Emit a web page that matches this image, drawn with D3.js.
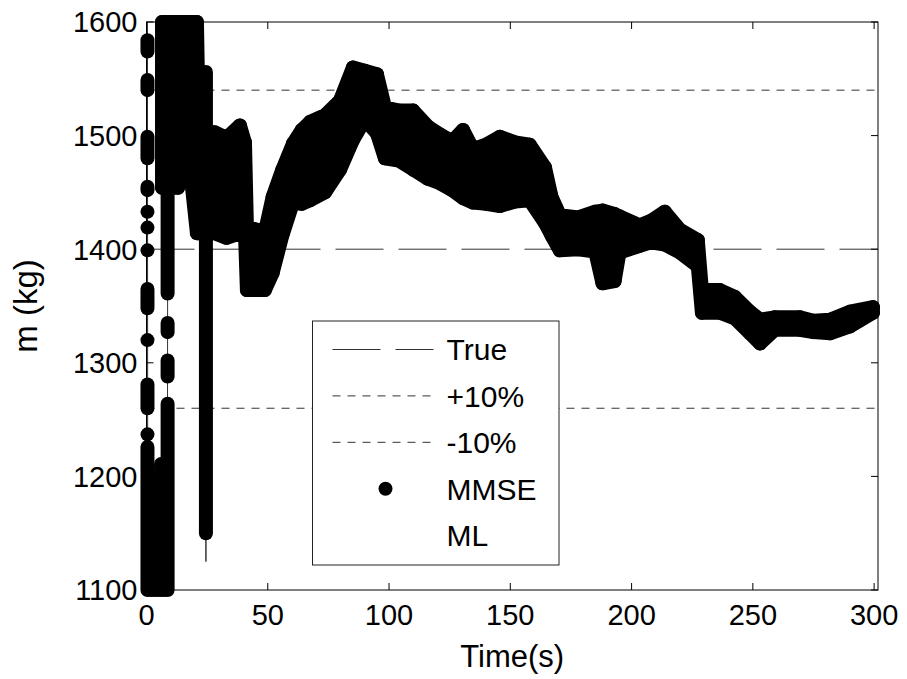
<!DOCTYPE html>
<html>
<head>
<meta charset="utf-8">
<script src="https://cdn.jsdelivr.net/npm/d3@7"></script>
<style>
  body { margin: 0; background: #fff; }
  svg { display: block; font-family: "Liberation Sans", Arial, sans-serif; }
</style>
</head>
<body>
<div id="chart"></div>
<script>
// axis ticks
const timeTicks = [0, 50, 100, 150, 200, 250, 300];
const massTicks = [1100, 1200, 1300, 1400, 1500, 1600];

// reference lines (kg)
const trueMass = 1400;
const plusTen = 1540;
const minusTen = 1260;

// MMSE main track: envelope of the dot cloud (dot centres, clamped to 1100..1600)
const bandTime = [6.4, 13, 15.9, 20.8, 21.6, 28, 33, 38.5, 40.6, 41.4, 48.8, 52, 56, 60.4, 64, 67.4, 73.6, 79.8, 85.1, 90, 95, 98.3, 104, 110, 116, 121, 126, 130.5, 134.6, 140, 145.7, 152, 158, 164.3, 167, 170.4, 178, 185, 188, 193, 195, 203.4, 208, 213.7, 220, 227.3, 229, 236.4, 242.6, 248.8, 253, 259, 269.4, 275, 281.8, 290, 299.5];
const bandHigh = [1600, 1600, 1600, 1600, 1503, 1503, 1498, 1509, 1494, 1420, 1415, 1446, 1470, 1493, 1505, 1512, 1518, 1531, 1560, 1557, 1554, 1525, 1522, 1522, 1508, 1501, 1495, 1505, 1488, 1492, 1499, 1494, 1492, 1472, 1446, 1430, 1428, 1433, 1434, 1431, 1429, 1421, 1425, 1433, 1417, 1408, 1364, 1364, 1358, 1345, 1338, 1340, 1340, 1337, 1338, 1345, 1349];
const bandLow = [1454, 1454, 1511, 1414, 1414, 1414, 1410, 1414, 1414, 1364, 1364, 1379, 1412, 1441, 1440, 1443, 1450, 1470, 1496, 1514, 1502, 1480, 1478, 1470, 1462, 1458, 1452, 1445, 1441, 1440, 1438, 1442, 1443, 1423, 1412, 1399, 1400, 1398, 1370, 1372, 1397, 1403, 1406, 1404, 1397, 1385, 1344, 1344, 1339, 1326, 1317, 1329, 1329, 1327, 1326, 1332, 1344];

// MMSE vertical runs of dots (early transient)
const runTime = [0.4, 0.4, 0.4, 0.4, 0.4, 0.4, 0.4, 0.4, 0.4, 0.4, 0.4, 0.4, 1.8, 3.2, 4.6, 6.0, 7.2, 8.7, 8.7, 8.7, 8.7, 24.5];
const runLow = [1574, 1540, 1480, 1452, 1433, 1419, 1399, 1348, 1320, 1260, 1237, 1100, 1100, 1100, 1100, 1100, 1100, 1361, 1327, 1288, 1100, 1150];
const runHigh = [1584, 1549, 1499, 1455, 1433, 1419, 1399, 1365, 1320, 1281, 1237, 1226, 1195, 1188, 1200, 1211, 1205, 1600, 1335, 1302, 1264, 1556];

// ML estimate
const mlTime = [0.4, 0.5, 8.6, 8.8, 24.3, 24.5, 24.7, 40, 45, 60, 85, 100, 150, 163, 166, 169, 171, 200, 225, 229, 250, 300];
const mlMass = [1600, 1100, 1100, 1600, 1560, 1125, 1460, 1460, 1390, 1465, 1525, 1495, 1465, 1455, 1460, 1452, 1430, 1412, 1400, 1355, 1330, 1345];

const legendItems = ["True", "+10%", "-10%", "MMSE", "ML"];

const width = 907;
const height = 679;
const margin = { top: 22, right: 29, bottom: 89, left: 146.5 };
const dotRadius = 7;

const x = d3.scaleLinear().domain([0, 301.6]).range([margin.left, width - margin.right]);
const y = d3.scaleLinear().domain([1100, 1600]).range([height - margin.bottom, margin.top]);

const svg = d3.select("#chart").append("svg").attr("width", width).attr("height", height);
const plot = svg.append("g");

// reference lines
const refLines = [
  { value: trueMass, dash: "48 15" },
  { value: plusTen, dash: "8 7" },
  { value: minusTen, dash: "8 7" },
];
plot.selectAll(".ref-line")
  .data(refLines)
  .join("line")
  .attr("class", "ref-line")
  .attr("x1", x.range()[0]).attr("x2", x.range()[1])
  .attr("y1", (d) => y(d.value)).attr("y2", (d) => y(d.value))
  .attr("stroke", "#333").attr("stroke-width", 1)
  .attr("stroke-dasharray", (d) => d.dash);

// ML
plot.append("path")
  .datum(mlTime.map((t, i) => [t, mlMass[i]]))
  .attr("fill", "none").attr("stroke", "#333").attr("stroke-width", 1)
  .attr("d", d3.line().x((d) => x(d[0])).y((d) => y(d[1])));

// MMSE band
const band = bandTime.map((t, i) => ({ t, hi: bandHigh[i], lo: bandLow[i] }));
plot.append("path")
  .datum(band)
  .attr("fill", "#000").attr("stroke", "#000")
  .attr("stroke-width", dotRadius * 2).attr("stroke-linejoin", "round")
  .attr("d", d3.area().x((d) => x(d.t)).y0((d) => y(d.lo)).y1((d) => y(d.hi)));

plot.selectAll(".band-dot")
  .data(band.flatMap((d) => [[d.t, d.hi], [d.t, d.lo]]))
  .join("circle")
  .attr("class", "band-dot")
  .attr("cx", (d) => x(d[0])).attr("cy", (d) => y(d[1]))
  .attr("r", dotRadius).attr("fill", "#000");

// MMSE runs
plot.selectAll(".run")
  .data(runTime.map((t, i) => ({ t, lo: runLow[i], hi: runHigh[i] })))
  .join("line")
  .attr("class", "run")
  .attr("x1", (d) => x(d.t)).attr("x2", (d) => x(d.t))
  .attr("y1", (d) => y(d.lo)).attr("y2", (d) => y(d.hi))
  .attr("stroke", "#000").attr("stroke-width", dotRadius * 2)
  .attr("stroke-linecap", "round");

// axes box
const axes = svg.append("g").attr("fill", "none").attr("stroke", "#000").attr("stroke-width", 1);
axes.append("rect")
  .attr("x", x.range()[0]).attr("y", y.range()[1])
  .attr("width", x.range()[1] - x.range()[0])
  .attr("height", y.range()[0] - y.range()[1]);

const tickLen = 7;
axes.selectAll(".xt")
  .data(timeTicks.flatMap((d) => [[d, y.range()[0], -tickLen], [d, y.range()[1], tickLen]]))
  .join("line")
  .attr("x1", (d) => x(d[0])).attr("x2", (d) => x(d[0]))
  .attr("y1", (d) => d[1]).attr("y2", (d) => d[1] + d[2]);
axes.selectAll(".yt")
  .data(massTicks.flatMap((d) => [[d, x.range()[0], tickLen], [d, x.range()[1], -tickLen]]))
  .join("line")
  .attr("y1", (d) => y(d[0])).attr("y2", (d) => y(d[0]))
  .attr("x1", (d) => d[1]).attr("x2", (d) => d[1] + d[2]);

svg.selectAll(".x-label")
  .data(timeTicks)
  .join("text")
  .attr("x", (d) => x(d)).attr("y", y.range()[0] + 35)
  .attr("text-anchor", "middle").attr("font-size", 29)
  .text((d) => d);
svg.selectAll(".y-label")
  .data(massTicks)
  .join("text")
  .attr("x", x.range()[0] - 9).attr("y", (d) => y(d)).attr("dy", "0.36em")
  .attr("text-anchor", "end").attr("font-size", 29)
  .text((d) => d);

svg.append("text")
  .attr("x", (x.range()[0] + x.range()[1]) / 2).attr("y", 667)
  .attr("text-anchor", "middle").attr("font-size", 31)
  .text("Time(s)");
svg.append("text")
  .attr("transform", `translate(37,${(y.range()[0] + y.range()[1]) / 2}) rotate(-90)`)
  .attr("text-anchor", "middle").attr("font-size", 33)
  .text("m (kg)");

// legend
const legend = svg.append("g").attr("transform", "translate(312.5,321)");
legend.append("rect")
  .attr("width", 246.5).attr("height", 244)
  .attr("fill", "#fff").attr("stroke", "#222").attr("stroke-width", 1);
const item = legend.selectAll(".item")
  .data(legendItems)
  .join("g")
  .attr("transform", (d, i) => `translate(0,${28.5 + i * 46.4})`);
item.filter((d, i) => i < 3)
  .append("line")
  .attr("x1", 20).attr("x2", 121)
  .attr("stroke", "#333").attr("stroke-width", 1)
  .attr("stroke-dasharray", (d, i) => (i === 0 ? "48 15" : "8 7"));
item.filter((d) => d === "MMSE")
  .append("circle").attr("cx", 73).attr("r", dotRadius).attr("fill", "#000");
item.append("text")
  .attr("x", 134).attr("dy", "0.36em").attr("font-size", 30)
  .text((d) => d);
</script>
</body>
</html>
